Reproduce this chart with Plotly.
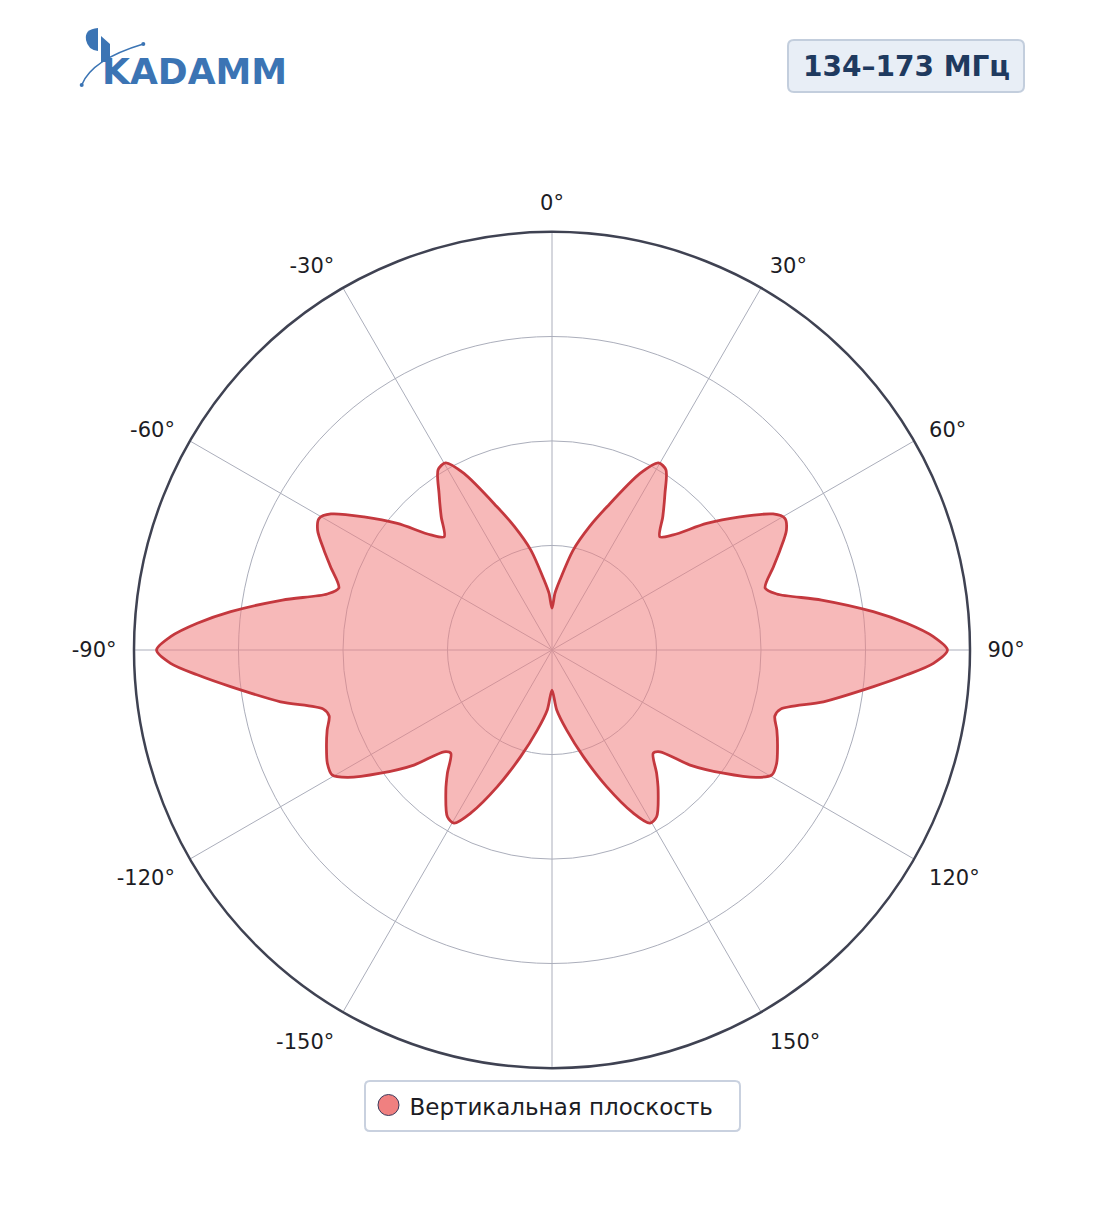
import plotly.graph_objects as go

W, H = 1104, 1211
OFF = 8  # page body margin offset

# ---- data (right half of the vertical-plane pattern; pattern is symmetric) ----
theta_right = [0, 3, 6.5, 12, 17, 21, 26.5, 29.6, 32.3, 35.8, 39.7, 43.6, 46.5, 50.7, 54.7,
               58.4, 60.5, 62.9, 66.3, 69.4, 73.8, 76, 79.5, 83.2, 85.7, 88, 90, 92, 94,
               96.5, 100.8, 104.5, 106.5, 109.6, 113.2, 116.8, 119.6, 121.9, 125.7, 129.8,
               133.3, 135.6, 139.7, 142.8, 147.9, 150.5, 153.5, 158.2, 163.6, 169.6, 175.5, 180]
r_right = [0.100, 0.136, 0.169, 0.245, 0.310, 0.367, 0.472, 0.515, 0.510, 0.462, 0.415, 0.374,
           0.400, 0.478, 0.551, 0.621, 0.640, 0.630, 0.596, 0.566, 0.531, 0.554, 0.656, 0.774,
           0.851, 0.913, 0.946, 0.913, 0.851, 0.774, 0.661, 0.565, 0.556, 0.571, 0.587, 0.602,
           0.605, 0.577, 0.505, 0.430, 0.355, 0.346, 0.387, 0.420, 0.471, 0.476, 0.436, 0.352,
           0.266, 0.195, 0.144, 0.096]

tick_vals = [0, 30, 60, 90, 120, 150, 180, 210, 240, 270, 300, 330]
tick_text = ["0°", "30°", "60°", "90°", "120°", "150°", "", "-150°", "-120°", "-90°", "-60°", "-30°"]

series_name = "Вертикальная плоскость"
band_label = "134–173 МГц"
logo_text = "KADAMM"

# full closed contour: right half + mirrored left half
theta_full = theta_right + [360 - t for t in reversed(theta_right[:-1])]
r_full = r_right + list(reversed(r_right[:-1]))


def px(x):
    return (x - OFF) / W


def py(y):
    return 1 - (y - OFF) / H


def rounded_rect(x0, y0, x1, y1, rad):
    rx, ry = rad / W, rad / H
    X0, X1 = px(x0), px(x1)
    Y0, Y1 = py(y0), py(y1)  # Y0 top, Y1 bottom
    return (f"M {X0+rx},{Y0} L {X1-rx},{Y0} Q {X1},{Y0} {X1},{Y0-ry} "
            f"L {X1},{Y1+ry} Q {X1},{Y1} {X1-rx},{Y1} L {X0+rx},{Y1} "
            f"Q {X0},{Y1} {X0},{Y1+ry} L {X0},{Y0-ry} Q {X0},{Y0} {X0+rx},{Y0} Z")


fig = go.Figure()

fig.add_trace(go.Scatterpolar(
    r=r_full, theta=theta_full, mode="lines", fill="toself",
    fillcolor="rgba(240,128,128,0.55)",
    line=dict(color="#c4383e", width=2.8, shape="spline", smoothing=0.8),
    showlegend=False, hoverinfo="skip",
))

fig.add_trace(go.Scatterpolar(
    r=[None], theta=[None], mode="markers", name=series_name,
    marker=dict(size=16, color="rgba(0,0,0,0)", line=dict(width=0)),
    showlegend=True,
))

R = 418
cx, cy = 552, 650
grid_col = "#abaebb"

fig.update_layout(
    width=W, height=H,
    margin=dict(l=0, r=0, t=0, b=0),
    paper_bgcolor="white",
    font=dict(family="DejaVu Sans", color="#1c1c24", size=21),
    polar=dict(
        domain=dict(x=[px(cx - R), px(cx + R)], y=[py(cy + R), py(cy - R)]),
        bgcolor="white",
        radialaxis=dict(range=[0, 1], tickvals=[0.25, 0.5, 0.75, 1.0], showticklabels=False,
                        ticks="", showline=False, gridcolor=grid_col, gridwidth=1.2,
                        layer="below traces"),
        angularaxis=dict(rotation=90, direction="clockwise", tickmode="array",
                         tickvals=tick_vals, ticktext=tick_text, ticks="outside",
                         ticklen=12, tickcolor="rgba(0,0,0,0)",
                         showline=True, linecolor="#3f4252", linewidth=2.5,
                         gridcolor=grid_col, gridwidth=1.2, layer="below traces",
                         tickfont=dict(size=21, color="#1c1c24")),
    ),
    legend=dict(x=px(544), xanchor="center", y=py(1106), yanchor="middle",
                orientation="h", bgcolor="rgba(0,0,0,0)", borderwidth=0,
                font=dict(size=23, color="#1c1c24")),
)

shapes = []
# legend box
shapes.append(dict(type="path", xref="paper", yref="paper", path=rounded_rect(365, 1081, 740, 1131, 5),
                   line=dict(color="#c9d1df", width=2), fillcolor="white", layer="below"))
# legend marker
shapes.append(dict(type="circle", xref="paper", yref="paper",
                   x0=px(378), x1=px(399), y0=py(1115.5), y1=py(1094.5),
                   line=dict(color="#3b3b5c", width=1), fillcolor="#f08080", layer="above"))
# band label box
shapes.append(dict(type="path", xref="paper", yref="paper", path=rounded_rect(788, 40, 1024, 92, 6),
                   line=dict(color="#c3cedd", width=2), fillcolor="#e8eef6", layer="below"))
# logo: half disc
logo_col = "#3b74b4"
shapes.append(dict(type="path", xref="paper", yref="paper",
                   path=(f"M {px(98)},{py(28)} Q {px(84)},{py(29)} {px(86)},{py(40)} "
                         f"Q {px(88)},{py(50)} {px(98)},{py(51)} Z"),
                   line=dict(width=0), fillcolor=logo_col, layer="above"))
# logo: K stem extension
shapes.append(dict(type="path", xref="paper", yref="paper",
                   path=(f"M {px(101)},{py(36)} L {px(110)},{py(44)} L {px(110)},{py(62)} "
                         f"L {px(101)},{py(62)} Z"),
                   line=dict(width=0), fillcolor=logo_col, layer="above"))
# logo: arc
shapes.append(dict(type="path", xref="paper", yref="paper",
                   path=f"M {px(81.7)},{py(85)} Q {px(91.6)},{py(59.5)} {px(143.3)},{py(44)}",
                   line=dict(color=logo_col, width=1.5), layer="above"))
for (dx, dy) in [(81.7, 85), (143.3, 44)]:
    shapes.append(dict(type="circle", xref="paper", yref="paper",
                       x0=px(dx - 2), x1=px(dx + 2), y0=py(dy + 2), y1=py(dy - 2),
                       line=dict(width=0), fillcolor=logo_col, layer="above"))
fig.update_layout(shapes=shapes)

fig.add_annotation(text=f"<b>{logo_text}</b>", xref="paper", yref="paper",
                   x=px(100), y=py(72), xanchor="left", yanchor="middle", showarrow=False,
                   font=dict(family="DejaVu Sans", size=36, color=logo_col))
fig.add_annotation(text=f"<b>{band_label}</b>", xref="paper", yref="paper",
                   x=px(906), y=py(66), xanchor="center", yanchor="middle", showarrow=False,
                   font=dict(family="DejaVu Sans", size=28, color="#1f3a5f"))

fig.write_html("out.html")
